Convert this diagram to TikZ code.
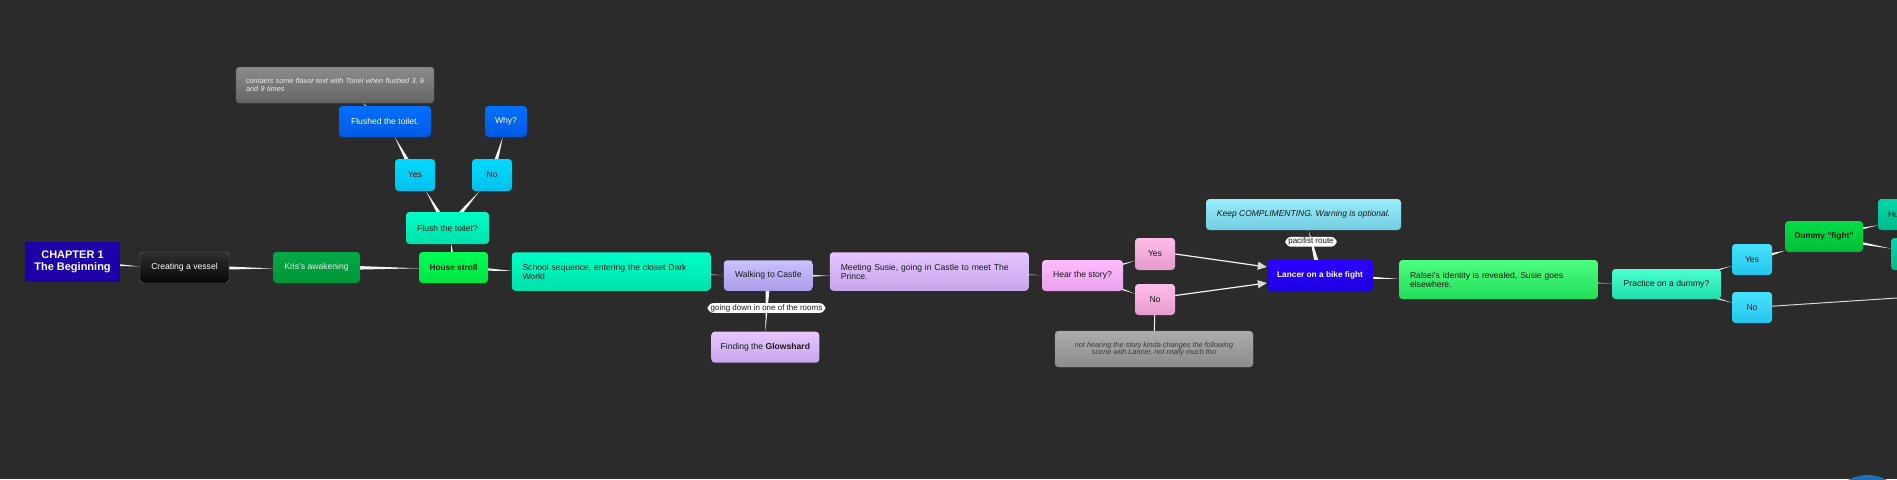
\documentclass[tikz,border=0pt]{standalone}
\usepackage{fontspec}
\setmainfont{Liberation Sans}
\usetikzlibrary{arrows.meta, calc}
\definecolor{canvas}{RGB}{43, 43, 43}
\definecolor{ink}{RGB}{25, 25, 25}
\definecolor{linkwhite}{RGB}{245, 245, 245}
\definecolor{tipgray}{RGB}{215, 215, 220}
\definecolor{chapter}{RGB}{30, 0, 168}
\definecolor{vesseltop}{RGB}{48, 48, 48}
\definecolor{vesselbot}{RGB}{5, 5, 5}
\definecolor{vesselrim}{RGB}{105, 105, 105}
\definecolor{kristop}{RGB}{0, 170, 70}
\definecolor{krisbot}{RGB}{0, 148, 55}
\definecolor{housetop}{RGB}{0, 255, 85}
\definecolor{housebot}{RGB}{0, 228, 65}
\definecolor{mintop}{RGB}{0, 255, 200}
\definecolor{mintbot}{RGB}{0, 225, 170}
\definecolor{flushtop}{RGB}{0, 112, 255}
\definecolor{flushbot}{RGB}{0, 90, 225}
\definecolor{skytop}{RGB}{0, 218, 255}
\definecolor{skybot}{RGB}{0, 192, 235}
\definecolor{greytop}{RGB}{140, 140, 140}
\definecolor{greybot}{RGB}{100, 100, 100}
\definecolor{walktop}{RGB}{202, 194, 255}
\definecolor{walkbot}{RGB}{170, 155, 230}
\definecolor{liltop}{RGB}{228, 198, 255}
\definecolor{lilbot}{RGB}{200, 165, 235}
\definecolor{heartop}{RGB}{255, 188, 255}
\definecolor{hearbot}{RGB}{232, 160, 235}
\definecolor{pinktop}{RGB}{255, 188, 232}
\definecolor{pinkbot}{RGB}{230, 155, 205}
\definecolor{paletop}{RGB}{172, 172, 172}
\definecolor{palebot}{RGB}{140, 140, 140}
\definecolor{lancertop}{RGB}{42, 0, 255}
\definecolor{lancerbot}{RGB}{30, 0, 225}
\definecolor{keeptop}{RGB}{152, 236, 252}
\definecolor{keepbot}{RGB}{115, 205, 225}
\definecolor{ralseitop}{RGB}{75, 255, 125}
\definecolor{ralseibot}{RGB}{35, 222, 92}
\definecolor{aquatop}{RGB}{72, 255, 208}
\definecolor{aquabot}{RGB}{35, 222, 172}
\definecolor{cyantop}{RGB}{72, 226, 255}
\definecolor{cyanbot}{RGB}{35, 196, 236}
\definecolor{dummytop}{RGB}{0, 222, 70}
\definecolor{dummybot}{RGB}{0, 190, 55}
\definecolor{tealtop}{RGB}{0, 216, 168}
\definecolor{tealbot}{RGB}{0, 186, 140}
\definecolor{bubble}{RGB}{30, 110, 180}
\pgfdeclarelayer{back}
\pgfdeclarelayer{links}
\pgfsetlayers{back,links,main}
\newcommand{\wedgelink}[3][3pt]{%
    \fill[linkwhite] ($(#2)!#1!90:(#3)$) -- ($(#2)!#1!-90:(#3)$) -- (#3) -- cycle;}

\begin{document}
\begin{tikzpicture}[x=1pt, y=-1pt,
    box/.style={rounded corners=3.5pt, inner sep=0pt, minimum height=31, text=ink, font=\fontsize{8.6}{9}\selectfont},
    boldbox/.style={box, font=\fontsize{8.3}{9}\selectfont\bfseries},
    notebox/.style={box, minimum height=36, font=\fontsize{7.3}{7.4}\selectfont\itshape},
    pill/.style={fill=white, rounded corners=6pt, inner xsep=3pt, inner ysep=1.2pt, text=ink, font=\fontsize{8}{8.5}\selectfont},
    vgrad/.style 2 args={top color=#1, bottom color=#2},
    arrowlink/.style={draw=linkwhite, line width=1.2pt, -{Triangle[length=9pt, width=8pt, color=tipgray]}},
    plainlink/.style={draw=linkwhite, line width=1pt}]
    \path[use as bounding box] (0, 0) rectangle (1897, 479);
    \clip (0, 0) rectangle (1897, 479);
    \begin{pgfonlayer}{back}
        \fill[canvas] (0, 0) rectangle (1897, 479);
    \end{pgfonlayer}

    % Main line
    \node[fill=chapter, inner sep=0pt, minimum width=95, minimum height=40, align=center, text=white, font=\fontsize{11}{12}\selectfont\bfseries] (chapter) at (72.5, 262) {CHAPTER 1\\The Beginning};
    \node[box, vgrad={vesseltop}{vesselbot}, draw=vesselrim, minimum width=89, text=white] (vessel) at (184.5, 267.5) {Creating a vessel};
    \node[box, vgrad={kristop}{krisbot}, minimum width=87, text=white!92!black] (kris) at (316.5, 267.5) {Kris's awakening};
    \node[boldbox, vgrad={housetop}{housebot}, minimum width=69] (house) at (453.5, 267.5) {House stroll};
    \node[box, vgrad={mintop}{mintbot}, minimum height=38.5, text width=177.6pt, inner xsep=10.7pt, align=left] (school) at (611.3, 271.5) {School sequence, entering the closet Dark\\World};
    \node[box, vgrad={walktop}{walkbot}, minimum width=89, minimum height=30.5] (walk) at (768.3, 275.5) {Walking to Castle};
    \node[box, vgrad={liltop}{lilbot}, minimum height=38.5, text width=177pt, inner xsep=11pt, align=left] (meet) at (929.3, 271.5) {Meeting Susie, going in Castle to meet The\\Prince.};
    \node[box, vgrad={heartop}{hearbot}, minimum width=81] (hear) at (1082.5, 275.5) {Hear the story?};
    \node[boldbox, vgrad={lancertop}{lancerbot}, minimum width=106, text=white] (lancer) at (1320, 275.5) {Lancer on a bike fight};
    \node[box, vgrad={ralseitop}{ralseibot}, minimum height=39, text width=177pt, inner xsep=11pt, align=left] (ralsei) at (1498.5, 279.5) {Ralsei's identity is revealed, Susie goes\\elsewhere.};
    \node[box, vgrad={aquatop}{aquabot}, minimum width=109, minimum height=30] (practice) at (1666.5, 284) {Practice on a dummy?};

    % Toilet branch
    \node[box, vgrad={mintop}{mintbot}, minimum width=83, minimum height=32] (flushq) at (447.5, 228) {Flush the toilet?};
    \node[box, vgrad={skytop}{skybot}, minimum width=40, minimum height=32] (yesA) at (415, 175) {Yes};
    \node[box, vgrad={skytop}{skybot}, minimum width=40, minimum height=32] (noA) at (492, 175) {No};
    \node[box, vgrad={flushtop}{flushbot}, minimum width=92, text=white] (flushed) at (385, 121.5) {Flushed the toilet.};
    \node[box, vgrad={flushtop}{flushbot}, minimum width=42, text=white] (why) at (506, 121.5) {Why?};
    \node[notebox, vgrad={greytop}{greybot}, draw=greybot, text width=184pt, inner xsep=7pt, align=left, text=white!93!black] (toiletnote) at (335, 85) {\hspace*{3pt}contains some flavor text with Toriel when flushed 3, 6\\\hspace*{3pt}and 9 times};

    % Castle branch
    \node[box, vgrad={liltop}{lilbot}, minimum width=108] (shard) at (765.3, 347.2) {Finding the \textbf{Glowshard}};
    \node[pill] (roomslabel) at (766.5, 308) {going down in one of the rooms};

    % Story branch
    \node[box, vgrad={pinktop}{pinkbot}, minimum width=40, minimum height=32] (yesB) at (1155, 254) {Yes};
    \node[box, vgrad={pinktop}{pinkbot}, minimum width=40] (noB) at (1155, 299.5) {No};
    \node[notebox, vgrad={paletop}{palebot}, draw=palebot, minimum width=198, align=center, text=ink!85!white] (storynote) at (1154, 349) {not hearing the story kinda changes the following\\scene with Lancer, not really much tho};
    \node[box, vgrad={keeptop}{keepbot}, minimum width=195, font=\fontsize{8.5}{9}\selectfont\itshape] (keep) at (1303.5, 214.5) {Keep COMPLIMENTING. Warning is optional.};
    \node[pill] (pacifist) at (1311, 241.8) {pacifist route};

    % Dummy branch
    \node[box, vgrad={cyantop}{cyanbot}, minimum width=40] (yesC) at (1752, 259.5) {Yes};
    \node[box, vgrad={cyantop}{cyanbot}, minimum width=40] (noC) at (1752, 307.5) {No};
    \node[boldbox, vgrad={dummytop}{dummybot}, minimum width=78] (dummy) at (1824, 236.5) {Dummy "fight"};
    \node[box, vgrad={tealtop}{tealbot}, text width=60pt, inner xsep=10pt, align=left] (hug) at (1918, 214.5) {Hu};
    \node[box, vgrad={tealtop}{tealbot}, minimum width=80, minimum height=32] (spare) at (1931, 254) {};
    \coordinate (offright) at (1897, 298);
    \node[circle, fill=bubble, minimum size=80] (corner) at (1867.5, 515) {};

    % Links
    \begin{pgfonlayer}{links}
        \wedgelink{chapter}{vessel}
        \wedgelink{vessel}{kris}
        \wedgelink{kris}{house}
        \wedgelink{house}{school}
        \wedgelink{house}{flushq}
        \wedgelink{flushq}{yesA}
        \wedgelink{flushq}{noA}
        \wedgelink{yesA}{flushed}
        \wedgelink{noA}{why}
        \wedgelink{flushed}{toiletnote}
        \wedgelink{school}{walk}
        \wedgelink{walk}{meet}
        \wedgelink[2.5pt]{walk}{shard}
        \wedgelink{meet}{hear}
        \wedgelink{hear}{yesB}
        \wedgelink{hear}{noB}
        \draw[plainlink] (noB) -- (storynote);
        \draw[arrowlink] (yesB.east) -- ([yshift=8.5pt]lancer.west);
        \draw[arrowlink] ([yshift=4pt]noB.east) -- ([yshift=-7.5pt]lancer.west);
        \wedgelink{lancer}{keep}
        \wedgelink{lancer}{ralsei}
        \wedgelink{ralsei}{practice}
        \wedgelink{practice}{yesC}
        \wedgelink{practice}{noC}
        \wedgelink{yesC}{dummy}
        \wedgelink{dummy}{hug}
        \wedgelink{dummy}{spare}
        \draw[plainlink, draw=tipgray] (noC) -- (offright);
    \end{pgfonlayer}
\end{tikzpicture}
\end{document}
